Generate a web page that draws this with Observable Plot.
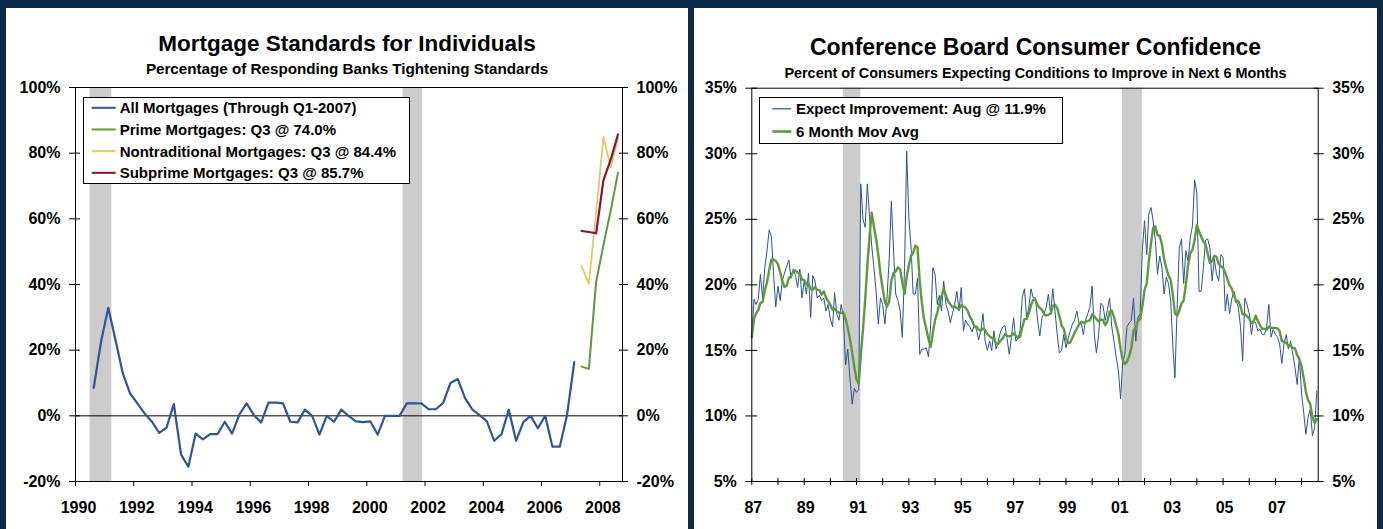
<!DOCTYPE html>
<html><head><meta charset="utf-8">
<script src="https://cdn.jsdelivr.net/npm/d3@7"></script>
<script src="https://cdn.jsdelivr.net/npm/@observablehq/plot@0.6"></script>
<style>
html,body{margin:0;padding:0;}
body{width:1383px;height:529px;background:#0b2a47;position:relative;overflow:hidden;font-family:"Liberation Sans",Arial,sans-serif;color:#000;}
.panel{position:absolute;top:8px;height:521px;background:#fff;overflow:hidden;}
.title{position:absolute;left:0;right:0;text-align:center;font-weight:bold;font-size:22.5px;line-height:22.5px;white-space:nowrap;}
.subtitle{position:absolute;left:0;right:0;text-align:center;font-weight:bold;font-size:14px;line-height:14px;white-space:nowrap;}
.chart{position:absolute;left:0;}
.legend{position:absolute;background:#fff;border:1px solid #000;box-sizing:border-box;}
.legend .row{position:absolute;font-weight:bold;font-size:15px;line-height:15px;white-space:nowrap;}
.legend svg{position:absolute;left:0;top:0;overflow:visible;}
</style></head>
<body>
<div class="panel" id="pL" style="left:6px;width:682px;">
  <div class="title" style="top:24.6px">Mortgage Standards for Individuals</div>
  <div class="subtitle" style="top:53.3px;font-size:15.2px;line-height:15.2px">Percentage of Responding Banks Tightening Standards</div>
  <div class="chart" id="chartL" style="top:66px"></div>
  <div class="legend" id="legL" style="left:77px;top:89px;width:327px;height:87px"></div>
</div>
<div class="panel" id="pR" style="left:694px;width:683px;">
  <div class="title" style="top:27.6px;font-size:23px;line-height:23px">Conference Board Consumer Confidence</div>
  <div class="subtitle" style="top:57.5px;font-size:14.4px;line-height:14.4px">Percent of Consumers Expecting Conditions to Improve in Next 6 Months</div>
  <div class="chart" id="chartR" style="top:66px"></div>
  <div class="legend" id="legR" style="left:64.7px;top:89px;width:304px;height:47px"></div>
</div>
<script>
// ---------------- LEFT CHART DATA (quarterly, % net tightening) ----------------
const allMortStart = [1990, 3];            // first quarter of "All Mortgages"
const allMortgages = [
  8.5, 22.5,
  32.9, 23.0, 12.9, 6.8,
  3.8, 0.7, -1.8, -5.2,
  -3.6, 3.6, -11.8, -15.5,
  -5.4, -7.2, -5.6, -5.6,
  -1.8, -5.4, 0.4, 3.8,
  0.2, -2.0, 4.0, 4.0,
  3.8, -1.8, -2.0, 1.9,
  0.0, -5.7, 0.0, -1.8,
  1.9, 0.0, -1.7, -1.9,
  -1.7, -5.7, 0.0, 0.0,
  0.0, 3.8, 3.8, 3.8,
  2.0, 2.0, 4.0, 10.0,
  11.2, 5.4, 1.9, 0.2,
  -1.7, -7.6, -5.6, 1.9,
  -7.6, -1.9, 0.0, -3.8,
  0.0, -9.4, -9.4, 0.2,
  16.4
];
const newSeriesStart = [2007, 2];          // first quarter of the split series
const primeMortgages = [15.0, 14.3, 40.8, 52.0, 62.5, 74.0];
const nontraditionalMortgages = [45.6, 40.2, 62.0, 84.9, 75.7, 84.4];
const subprimeMortgages = [56.3, 56.0, 55.6, 71.7, 78.0, 85.7];
const recessionsL = [[1990.5, 1991.25], [2001.25, 2001.92]];
const xTicksL = [1990, 1992, 1994, 1996, 1998, 2000, 2002, 2004, 2006, 2008];
const yTicksL = [-20, 0, 20, 40, 60, 80, 100];
const namesL = ["All Mortgages (Through Q1-2007)", "Prime Mortgages: Q3 @ 74.0%",
                "Nontraditional Mortgages: Q3 @ 84.4%", "Subprime Mortgages: Q3 @ 85.7%"];
const colorsL = ["#2f5597", "#5e9a3a", "#dccb6b", "#8b1232"];

// ---------------- RIGHT CHART DATA (monthly, % expecting improvement) ----------------
const expectStart = [1987, 1];
const expectImprovement = [
  16.0, 18.9, 18.5, 18.9, 20.8, 19.0, 21.3, 22.6, 24.2, 23.7, 20.8, 18.3,
  19.9, 18.8, 20.3, 20.9, 21.4, 21.9, 20.5, 21.2, 20.7, 19.8, 21.2, 19.0,
  20.3, 19.3, 20.9, 17.5, 20.7, 20.3, 19.0, 19.2, 18.8, 19.0, 18.0, 18.5,
  17.4, 16.8, 19.4, 17.8, 17.3, 18.5, 17.6, 13.9, 15.1, 12.9, 10.9, 12.1,
  11.8, 12.0, 27.7, 25.0, 24.4, 27.7, 25.2, 23.0, 21.3, 19.5, 17.0, 19.0,
  18.5, 17.0, 19.0, 22.0, 26.4, 22.5, 19.3, 18.8, 18.0, 16.0, 21.3, 30.2,
  25.0, 22.8, 19.3, 19.3, 20.5, 14.7, 15.1, 15.1, 15.2, 14.5, 17.0, 21.3,
  20.8, 18.5, 19.2, 18.0, 20.3, 18.5, 18.0, 17.1, 17.8, 18.5, 19.5, 18.0,
  19.8, 16.5, 17.3, 17.0, 16.8, 16.4, 16.9, 16.6, 15.8, 16.5, 17.8, 15.7,
  15.0, 15.7, 15.0, 16.5, 15.1, 15.7, 16.4, 16.8, 16.9, 15.9, 14.7, 16.0,
  17.5, 15.7, 15.9, 16.5, 19.0, 19.7, 17.5, 18.3, 19.7, 19.0, 19.0, 17.3,
  16.1, 17.5, 17.8, 18.3, 19.3, 17.8, 19.7, 18.0, 16.2, 14.8, 15.0, 16.2,
  15.2, 15.9, 16.5, 17.0, 17.3, 18.0, 17.1, 17.1, 16.2, 17.3, 17.8, 18.3,
  19.9, 16.2, 14.8, 16.2, 18.6, 18.4, 17.3, 18.1, 19.0, 16.8, 15.7, 14.5,
  13.5, 11.3, 14.0, 14.7, 16.8, 17.1, 17.3, 19.0, 15.7, 17.5, 17.8, 22.6,
  24.9, 22.3, 25.4, 25.9, 24.9, 23.4, 20.8, 22.2, 21.3, 19.3, 20.6, 20.1,
  18.8, 15.2, 12.9, 18.3, 22.8, 23.5, 20.1, 22.6, 21.8, 23.6, 24.5, 28.0,
  27.0, 19.5, 19.5, 21.3, 23.4, 23.5, 22.8, 20.3, 22.0, 20.8, 20.3, 22.3,
  22.1, 18.0, 19.3, 17.8, 18.9, 19.5, 18.8, 18.3, 16.8, 14.2, 19.0, 18.5,
  17.8, 16.2, 17.3, 17.1, 16.5, 16.6, 16.2, 16.2, 16.8, 18.5, 16.0, 16.6,
  16.2, 16.0, 15.5, 14.0, 15.5, 16.2, 15.1, 15.7, 14.7, 13.7, 12.4, 14.5,
  11.7, 10.2, 8.6, 9.9, 10.5, 8.5, 9.1, 11.9
];
const movingAvgMonths = 6;
const recessionsR = [["1990-07-01", "1991-03-01"], ["2001-03-01", "2001-12-01"]];
const xDomainR = ["1987-01-01", "2008-08-20"];
const yTicksR = [5, 10, 15, 20, 25, 30, 35];
const namesR = ["Expect Improvement: Aug @ 11.9%", "6 Month Mov Avg"];
const colorsR = ["#2b5298", "#5e9a3a"];

// ---------------- build tables ----------------
const qx = ([y, q], i) => y + ((q - 1) + i) / 4 + 0.125;
const tAll = allMortgages.map((v, i) => ({x: qx(allMortStart, i), v}));
const tPrime = primeMortgages.map((v, i) => ({x: qx(newSeriesStart, i), v}));
const tNon = nontraditionalMortgages.map((v, i) => ({x: qx(newSeriesStart, i), v}));
const tSub = subprimeMortgages.map((v, i) => ({x: qx(newSeriesStart, i), v}));
const t0 = new Date(Date.UTC(expectStart[0], expectStart[1] - 1, 1));
const tExp = expectImprovement.map((v, i) => ({date: d3.utcMonth.offset(t0, i), v}));
const recR = recessionsR.map(([a, b]) => ({a: new Date(a), b: new Date(b)}));
const xTicksR = d3.utcYears(new Date("1987-01-01"), new Date("2008-12-31"));

const font = {fontFamily: "'Liberation Sans', Arial, sans-serif", fontSize: "16px", fontWeight: "bold", color: "#000", background: "transparent", overflow: "visible"};
const pct = d => `${d}%`;

const plotL = Plot.plot({
  width: 682, height: 455, marginTop: 13, marginBottom: 48, marginLeft: 69, marginRight: 66,
  style: font,
  x: {type: "linear", domain: [1990, 2008.78], label: null},
  y: {domain: [-20, 100], label: null},
  marks: [
    Plot.barX(recessionsL, {x1: d => d[0], x2: d => d[1], fill: "#cccccc"}),
    Plot.ruleY([0], {stroke: "#000", strokeWidth: 1}),
    Plot.line(tAll, {x: "x", y: "v", stroke: colorsL[0], strokeWidth: 2.2}),
    Plot.line(tPrime, {x: "x", y: "v", stroke: colorsL[1], strokeWidth: 2}),
    Plot.line(tNon, {x: "x", y: "v", stroke: colorsL[2], strokeWidth: 1.8}),
    Plot.line(tSub, {x: "x", y: "v", stroke: colorsL[3], strokeWidth: 2.2}),
    Plot.frame({stroke: "#000"}),
    Plot.axisY(yTicksL, {anchor: "left", tickSize: 11, dx: 5, tickFormat: () => "", label: null}),
    Plot.axisY(yTicksL, {anchor: "left", tickSize: 0, tickPadding: 15, tickFormat: pct, label: null}),
    Plot.axisY(yTicksL, {anchor: "right", tickSize: 9, dx: -4, tickFormat: () => "", label: null}),
    Plot.axisY(yTicksL, {anchor: "right", tickSize: 0, tickPadding: 14, tickFormat: pct, label: null}),
    Plot.axisX(xTicksL, {anchor: "bottom", tickSize: 5, tickFormat: () => "", label: null}),
    Plot.axisX(xTicksL, {anchor: "bottom", tickSize: 0, tickPadding: 20.5, dx: 3, tickFormat: d => String(d), label: null})
  ]
});
document.getElementById("chartL").append(plotL);

const fmtYY = d3.utcFormat("%y");
const plotR = Plot.plot({
  width: 683, height: 455, marginTop: 13.7, marginBottom: 48, marginLeft: 57.3, marginRight: 59.3,
  style: font,
  x: {type: "utc", domain: xDomainR.map(s => new Date(s)), label: null},
  y: {domain: [5, 35], label: null},
  marks: [
    Plot.barX(recR, {x1: "a", x2: "b", fill: "#cccccc"}),
    Plot.line(tExp, {x: "date", y: "v", stroke: colorsR[0], strokeWidth: 1}),
    Plot.line(tExp, Plot.windowY({k: movingAvgMonths, anchor: "end", reduce: "mean"}, {x: "date", y: "v", stroke: colorsR[1], strokeWidth: 2.4})),
    Plot.frame({stroke: "#000"}),
    Plot.axisY(yTicksR, {anchor: "left", tickSize: 12, dx: 6, tickFormat: () => "", label: null}),
    Plot.axisY(yTicksR, {anchor: "left", tickSize: 0, tickPadding: 15, tickFormat: pct, label: null}),
    Plot.axisY(yTicksR, {anchor: "right", tickSize: 10, dx: -5, tickFormat: () => "", label: null}),
    Plot.axisY(yTicksR, {anchor: "right", tickSize: 0, tickPadding: 14, tickFormat: pct, label: null}),
    Plot.axisX(xTicksR, {anchor: "bottom", tickSize: 7, dy: -3, tickFormat: () => "", label: null}),
    Plot.axisX(xTicksR, {anchor: "bottom", tickSize: 0, tickPadding: 20.5, dx: 1.5, tickFormat: d => d.getUTCFullYear() % 2 ? fmtYY(d) : "", label: null})
  ]
});
document.getElementById("chartR").append(plotR);

// ---------------- legends ----------------
function buildLegend(id, names, colors, widths, cfg) {
  const el = document.getElementById(id);
  const ns = "http://www.w3.org/2000/svg";
  const svg = document.createElementNS(ns, "svg");
  svg.setAttribute("width", 40); svg.setAttribute("height", 90);
  names.forEach((name, i) => {
    const row = document.createElement("div");
    row.className = "row";
    row.style.left = cfg.textX + "px";
    row.style.top = (cfg.top + i * cfg.gap) + "px";
    row.textContent = name;
    el.append(row);
    const ln = document.createElementNS(ns, "line");
    const y = cfg.top + i * cfg.gap + 7.5;
    ln.setAttribute("x1", cfg.sw1); ln.setAttribute("x2", cfg.sw2);
    ln.setAttribute("y1", y); ln.setAttribute("y2", y);
    ln.setAttribute("stroke", colors[i]); ln.setAttribute("stroke-width", widths[i]);
    svg.append(ln);
  });
  el.append(svg);
}
buildLegend("legL", namesL, colorsL, [2, 2, 2, 2], {top: 2.3, gap: 21.67, textX: 35.7, sw1: 7.7, sw2: 31.7});
buildLegend("legR", namesR, colorsR, [1.2, 2.6], {top: 3.3, gap: 22.7, textX: 36.3, sw1: 12.3, sw2: 31.3});
</script>
</body></html>
